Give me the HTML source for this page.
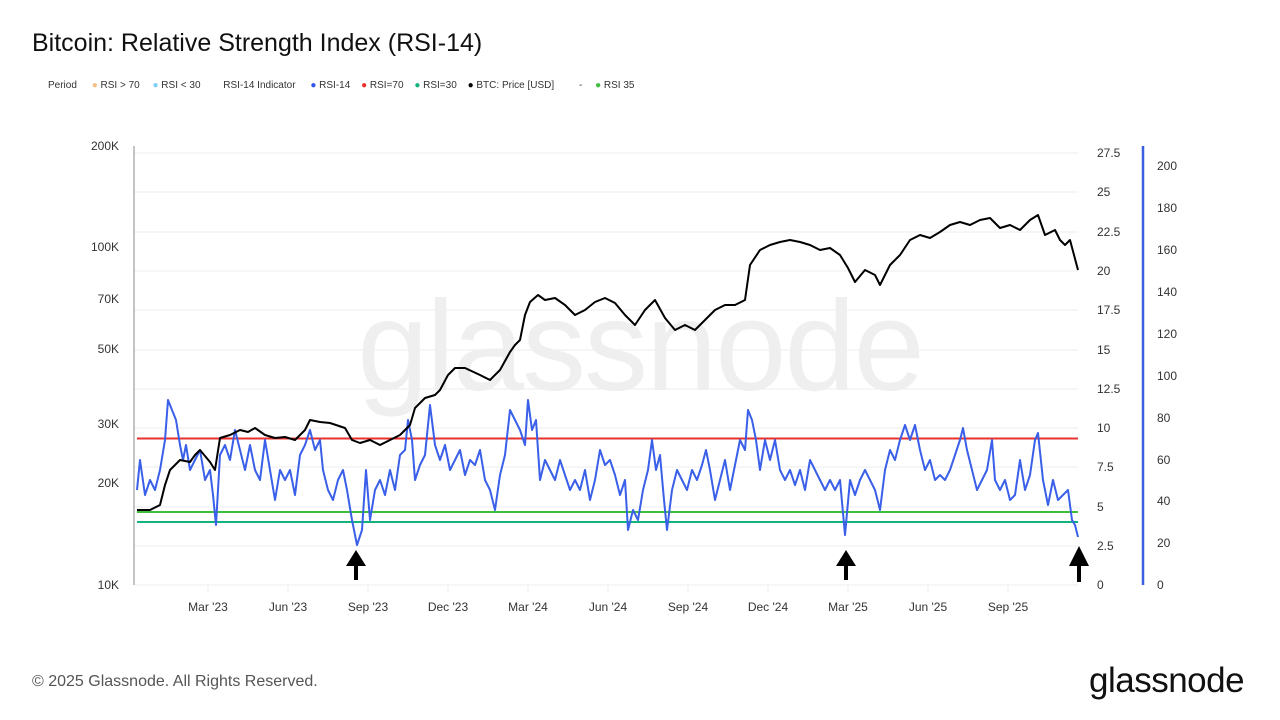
<!DOCTYPE html>
<html><head><meta charset="utf-8"><style>
body{margin:0;width:1280px;height:720px;background:#fff;font-family:"Liberation Sans",sans-serif;overflow:hidden;position:relative}
.t{position:absolute;white-space:nowrap}
</style></head><body>
<div class="t" style="left:32px;top:29px;font-size:25px;color:#111">Bitcoin: Relative Strength Index (RSI-14)</div>
<div class="t" style="left:48px;top:80px;font-size:10px;color:#333">Period
<span style="margin-left:12px;color:#f7c08a">●</span> RSI &gt; 70
<span style="margin-left:10px;color:#7fd0f7">●</span> RSI &lt; 30
<span style="margin-left:20px">RSI-14 Indicator</span>
<span style="margin-left:12px;color:#2f57e6">●</span> RSI-14
<span style="margin-left:8px;color:#e8302e">●</span> RSI=70
<span style="margin-left:8px;color:#14b37d">●</span> RSI=30
<span style="margin-left:8px;color:#000">●</span> BTC: Price [USD]
<span style="margin-left:22px">-</span>
<span style="margin-left:10px;color:#3cbf3c">●</span> RSI 35</div>
<svg width="1280" height="720" style="position:absolute;left:0;top:0">
<g stroke="#eeeeee" stroke-width="1">
<line x1="134" x2="1078" y1="153" y2="153"/><line x1="134" x2="1078" y1="192" y2="192"/><line x1="134" x2="1078" y1="232" y2="232"/><line x1="134" x2="1078" y1="271" y2="271"/><line x1="134" x2="1078" y1="310" y2="310"/><line x1="134" x2="1078" y1="350" y2="350"/><line x1="134" x2="1078" y1="389" y2="389"/><line x1="134" x2="1078" y1="428" y2="428"/><line x1="134" x2="1078" y1="467" y2="467"/><line x1="134" x2="1078" y1="507" y2="507"/><line x1="134" x2="1078" y1="546" y2="546"/><line x1="134" x2="1078" y1="585" y2="585"/>
<line x1="208" x2="208" y1="585" y2="592"/><line x1="288" x2="288" y1="585" y2="592"/><line x1="368" x2="368" y1="585" y2="592"/><line x1="448" x2="448" y1="585" y2="592"/><line x1="528" x2="528" y1="585" y2="592"/><line x1="608" x2="608" y1="585" y2="592"/><line x1="688" x2="688" y1="585" y2="592"/><line x1="768" x2="768" y1="585" y2="592"/><line x1="848" x2="848" y1="585" y2="592"/><line x1="928" x2="928" y1="585" y2="592"/><line x1="1008" x2="1008" y1="585" y2="592"/>
</g>
<text x="640" y="390" text-anchor="middle" font-size="128" font-family="Liberation Sans,sans-serif" fill="#efefef" letter-spacing="-2">glassnode</text>
<line x1="134" y1="146" x2="134" y2="585" stroke="#888" stroke-width="1"/>
<line x1="1143" y1="146" x2="1143" y2="585" stroke="#3a5fe0" stroke-width="2.5"/>
<line x1="137" x2="1078" y1="438.5" y2="438.5" stroke="#e8302e" stroke-width="2"/>
<line x1="137" x2="1078" y1="512" y2="512" stroke="#3cbf3c" stroke-width="2"/>
<line x1="137" x2="1078" y1="522" y2="522" stroke="#14b37d" stroke-width="2"/>
<polyline fill="none" stroke="#3a5fe8" stroke-width="2" stroke-linejoin="round" points="137,490 140,460 145,495 150,480 155,490 160,470 165,440 168,400 172,410 176,420 180,445 183,460 186,445 190,470 195,460 200,450 205,480 210,470 213,495 216,525 220,455 225,445 230,460 235,430 240,450 245,470 250,445 255,470 260,480 265,440 270,470 275,500 280,470 285,480 290,470 295,495 300,455 305,445 310,430 315,450 320,440 323,470 328,490 333,500 338,480 343,470 347,490 352,520 357,545 362,530 366,470 370,520 375,490 380,480 385,495 390,470 395,490 400,455 405,450 408,420 412,440 415,480 420,465 425,455 430,405 435,445 440,460 445,445 450,470 455,460 460,450 465,475 470,460 475,465 480,450 485,480 490,490 495,510 500,475 505,455 510,410 515,420 520,430 525,445 528,400 532,430 536,420 540,480 545,460 550,470 555,480 560,460 565,475 570,490 575,480 580,490 585,470 590,500 595,480 600,450 605,465 610,460 615,475 620,495 625,480 628,530 633,510 638,520 643,490 648,470 652,440 656,470 660,455 664,500 667,530 672,490 677,470 682,480 687,490 692,470 697,480 702,465 706,450 710,470 715,500 720,480 725,460 730,490 735,465 740,440 745,450 748,410 752,420 756,440 760,470 765,440 770,460 775,440 780,470 785,480 790,470 795,485 800,470 805,490 810,460 815,470 820,480 825,490 830,480 835,490 840,480 845,535 850,480 855,495 860,480 865,470 870,480 875,490 880,510 885,470 890,450 895,460 900,440 905,425 910,440 915,425 920,450 925,470 930,460 935,480 940,475 945,480 950,470 955,455 960,440 963,428 967,450 972,470 977,490 982,480 987,470 992,440 995,480 1000,490 1005,480 1010,500 1015,495 1020,460 1025,490 1030,475 1035,440 1038,433 1043,480 1048,505 1053,480 1058,500 1063,495 1068,490 1072,520 1075,525 1078,537"/>
<polyline fill="none" stroke="#000" stroke-width="2" stroke-linejoin="round" points="137,510 150,510 160,505 165,485 170,470 180,460 190,462 195,455 200,450 210,462 215,470 220,438 230,435 240,430 248,432 255,428 265,435 275,438 285,437 295,440 305,430 310,420 320,422 330,423 345,428 352,440 360,443 370,440 380,445 390,440 400,435 410,425 415,408 425,398 435,395 440,390 448,375 455,368 465,368 480,375 490,380 500,370 510,352 515,345 520,340 525,315 530,302 538,295 545,300 555,298 565,305 575,315 585,310 595,302 605,298 615,303 625,315 635,325 645,310 655,300 665,318 675,330 685,325 695,330 705,320 715,310 725,305 735,305 745,300 750,265 760,250 770,245 780,242 790,240 800,242 810,245 820,250 830,248 840,255 848,268 855,282 865,270 875,275 880,285 890,265 900,255 910,240 920,235 930,238 940,232 950,225 960,222 970,225 980,220 990,218 1000,228 1010,225 1020,230 1030,220 1038,215 1045,235 1055,230 1060,240 1065,245 1070,240 1078,270"/>
<g fill="#000">
<rect x="354" y="562" width="4" height="18"/><polygon points="346,566 356,550 366,566"/>
<rect x="844" y="562" width="4" height="18"/><polygon points="836,566 846,550 856,566"/>
<rect x="1077" y="562" width="4" height="20"/><polygon points="1069,566 1079,546 1089,566"/>
</g>
<g font-size="12" fill="#333" font-family="Liberation Sans,sans-serif" text-anchor="end">
<text x="119" y="150">200K</text><text x="119" y="251">100K</text><text x="119" y="303">70K</text><text x="119" y="353">50K</text><text x="119" y="428">30K</text><text x="119" y="487">20K</text><text x="119" y="589">10K</text>
</g>
<g font-size="12" fill="#333" font-family="Liberation Sans,sans-serif">
<text x="1097" y="157">27.5</text><text x="1097" y="196">25</text><text x="1097" y="236">22.5</text><text x="1097" y="275">20</text><text x="1097" y="314">17.5</text><text x="1097" y="354">15</text><text x="1097" y="393">12.5</text><text x="1097" y="432">10</text><text x="1097" y="471">7.5</text><text x="1097" y="511">5</text><text x="1097" y="550">2.5</text><text x="1097" y="589">0</text>
<text x="1157" y="170">200</text><text x="1157" y="212">180</text><text x="1157" y="254">160</text><text x="1157" y="296">140</text><text x="1157" y="338">120</text><text x="1157" y="380">100</text><text x="1157" y="422">80</text><text x="1157" y="464">60</text><text x="1157" y="505">40</text><text x="1157" y="547">20</text><text x="1157" y="589">0</text>
</g>
<g font-size="12" fill="#333" font-family="Liberation Sans,sans-serif" text-anchor="middle">
<text x="208" y="611">Mar '23</text><text x="288" y="611">Jun '23</text><text x="368" y="611">Sep '23</text><text x="448" y="611">Dec '23</text><text x="528" y="611">Mar '24</text><text x="608" y="611">Jun '24</text><text x="688" y="611">Sep '24</text><text x="768" y="611">Dec '24</text><text x="848" y="611">Mar '25</text><text x="928" y="611">Jun '25</text><text x="1008" y="611">Sep '25</text>
</g>
</svg>
<div class="t" style="left:32px;top:673px;font-size:16px;color:#555">© 2025 Glassnode. All Rights Reserved.</div>
<div class="t" style="left:1089px;top:661px;font-size:35px;color:#111;letter-spacing:-0.5px">glassnode</div>
</body></html>
